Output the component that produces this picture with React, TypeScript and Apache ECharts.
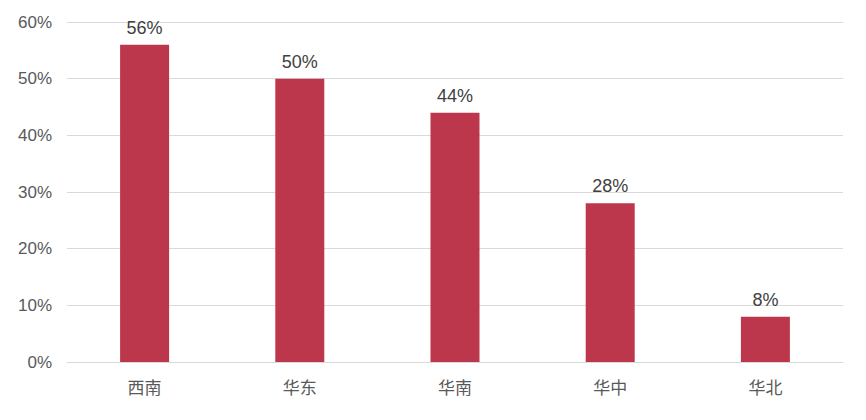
import React, { useEffect, useRef } from "react";
import * as echarts from "echarts";

const categories = ["西南", "华东", "华南", "华中", "华北"];
const values = [56, 50, 44, 28, 8];
const yTicks = [0, 10, 20, 30, 40, 50, 60];

export default function App() {
  const ref = useRef<HTMLDivElement>(null);
  useEffect(() => {
    const chart = echarts.init(ref.current!, undefined, { renderer: "svg" });
    chart.setOption({
      animation: false,
      grid: { left: 67, right: 23, top: 22, bottom: 58, containLabel: false },
      xAxis: {
        type: "category",
        data: categories,
        axisTick: { show: false },
        axisLine: { lineStyle: { color: "#d9d9d9", width: 1 } },
        axisLabel: {
          color: "#595959",
          fontSize: 17,
          margin: 16,
          fontFamily: "Noto Sans CJK SC",
        },
      },
      yAxis: {
        type: "value",
        min: yTicks[0],
        max: yTicks[yTicks.length - 1],
        interval: 10,
        axisLine: { show: false },
        axisTick: { show: false },
        splitLine: { lineStyle: { color: "#d9d9d9", width: 1 } },
        axisLabel: {
          color: "#595959",
          fontSize: 17,
          margin: 15,
          fontFamily: "Liberation Sans, Arial",
          formatter: "{value}%",
        },
      },
      series: [
        {
          type: "bar",
          data: values,
          barWidth: 49,
          itemStyle: { color: "#BC374B" },
          label: {
            show: true,
            position: "top",
            distance: 8,
            color: "#404040",
            fontSize: 18,
            fontFamily: "Liberation Sans, Arial",
            formatter: "{c}%",
          },
        },
      ],
    });
    return () => chart.dispose();
  }, []);
  return (
    <div
      ref={ref}
      style={{ position: "fixed", left: 0, top: 0, width: 866, height: 420, background: "#fff" }}
    />
  );
}
